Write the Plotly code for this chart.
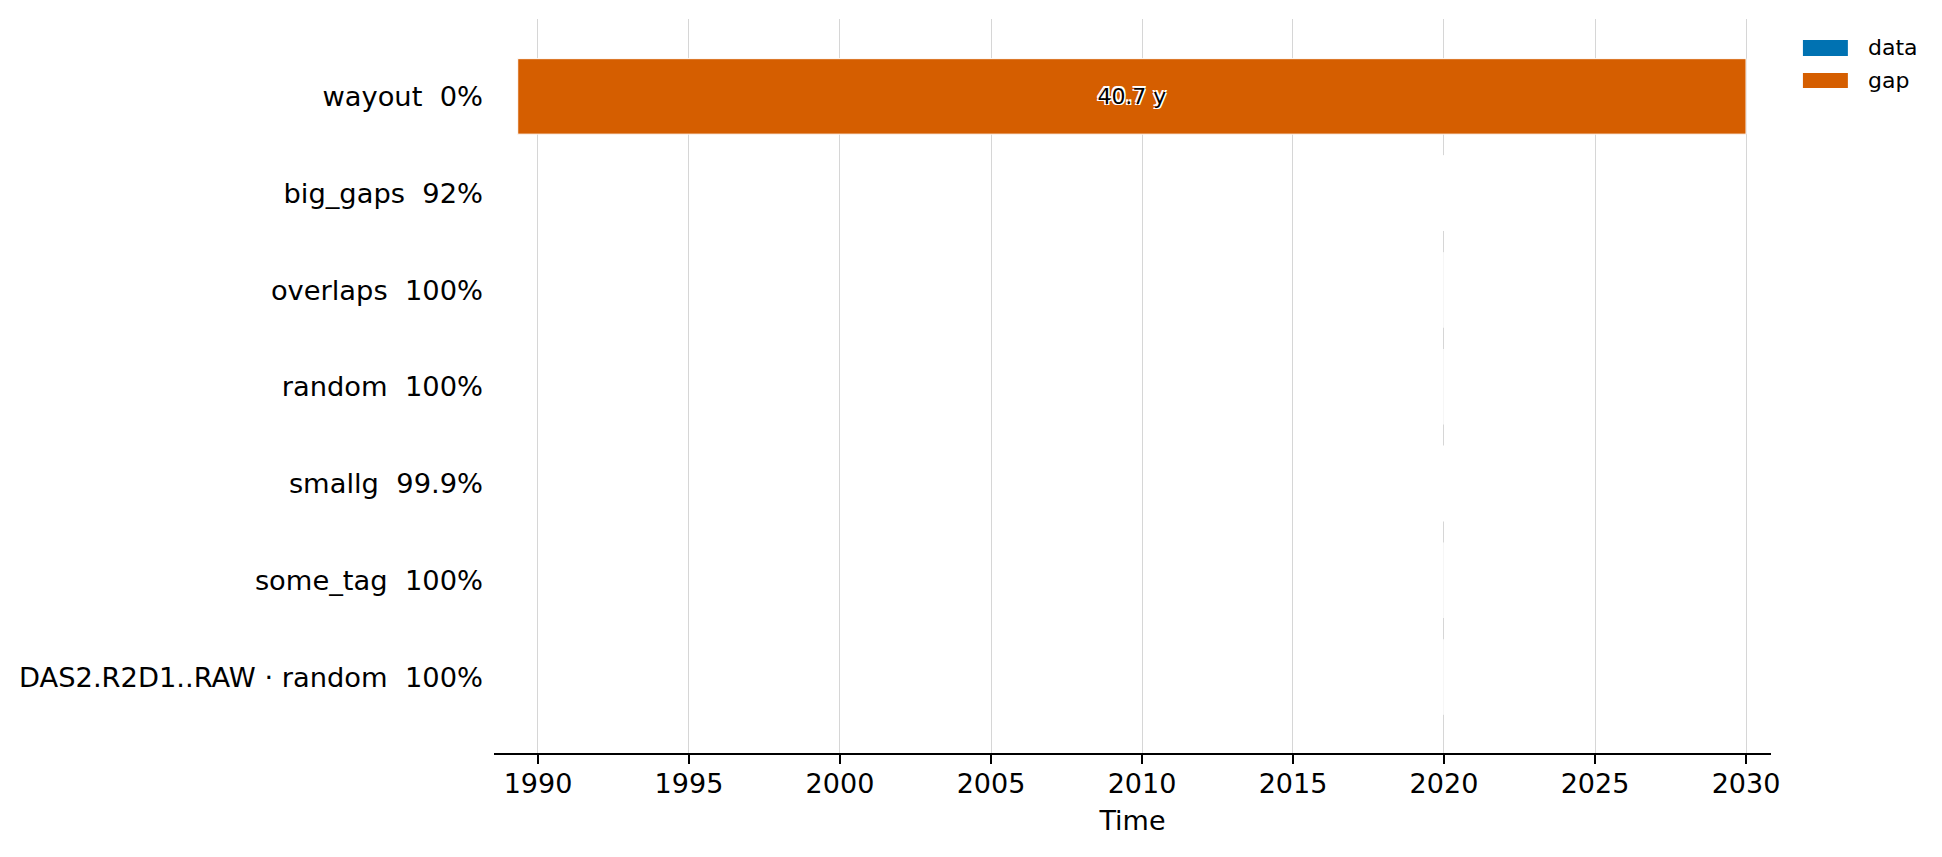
import plotly.graph_objects as go
import pandas as pd

# ---- data ----
row_names = ["wayout", "big_gaps", "overlaps", "random", "smallg", "some_tag",
             "DAS2.R2D1..RAW · random"]
row_cover = ["0%", "92%", "100%", "100%", "99.9%", "100%", "100%"]

seg_row = ["wayout", "big_gaps", "big_gaps", "big_gaps", "overlaps", "random",
           "smallg", "smallg", "smallg", "some_tag", "DAS2.R2D1..RAW · random"]
seg_kind = ["gap", "data", "gap", "data", "data", "data",
            "data", "gap", "data", "data", "data"]
seg_start = ["1989-05-01 00:00:00", "2020-01-01 00:00:00", "2020-01-01 00:20:00", "2020-01-01 00:22:00",
             "2020-01-01 00:00:00", "2020-01-01 00:00:00", "2020-01-01 00:00:00", "2020-01-01 00:15:00",
             "2020-01-01 00:15:01", "2020-01-01 00:00:00", "2020-01-01 00:00:00"]
seg_end = ["2030-01-01 00:00:00", "2020-01-01 00:20:00", "2020-01-01 00:22:00", "2020-01-01 00:45:00",
           "2020-01-01 00:40:00", "2020-01-01 00:40:00", "2020-01-01 00:15:00", "2020-01-01 00:15:01",
           "2020-01-01 00:40:00", "2020-01-01 00:40:00", "2020-01-01 00:40:00"]

kind_colors = {"data": "#0072B2", "gap": "#D55E00"}
x_range = ["1988-07-18", "2030-10-30"]

# ---- build ----
labels = {n: f"{n} \u00a0{c}" for n, c in zip(row_names, row_cover)}
starts = pd.to_datetime(seg_start, format="%Y-%m-%d %H:%M:%S")
ends = pd.to_datetime(seg_end, format="%Y-%m-%d %H:%M:%S")
durs_ms = [(e - s).total_seconds() * 1000 for s, e in zip(starts, ends)]
durs_y = [(e - s).total_seconds() / (365.25 * 86400) for s, e in zip(starts, ends)]

FONT = "DejaVu Sans"
fig = go.Figure()
for kind in ["data", "gap"]:
    idx = [i for i, k in enumerate(seg_kind) if k == kind]
    fig.add_trace(go.Bar(
        orientation="h",
        y=[labels[seg_row[i]] for i in idx],
        x=[durs_ms[i] for i in idx],
        base=[starts[i].strftime("%Y-%m-%d %H:%M:%S") for i in idx],
        width=0.78,
        marker=dict(color=kind_colors[kind], line=dict(color="white", width=1)),
        text=[(f"{durs_y[i]:.1f} y" if durs_y[i] > 1 else "") for i in idx],
        textposition="inside",
        insidetextanchor="middle",
        textangle=0,
        constraintext="none",
        textfont=dict(family=FONT, size=22, color="black",
                      shadow="-1.5px -1.5px 0 white, 1.5px -1.5px 0 white, -1.5px 1.5px 0 white, 1.5px 1.5px 0 white"),
        name=kind,
        showlegend=False,
        hoverinfo="skip",
    ))

# manual legend (matplotlib-style wide swatches)
leg_items = [("data", 0.9714, 0.9496), ("gap", 0.9264, 0.906)]
for name, y1, y0 in leg_items:
    fig.add_shape(type="rect", xref="paper", yref="paper",
                  x0=1.025, x1=1.0602, y0=y0, y1=y1,
                  fillcolor=kind_colors[name], line=dict(width=0))
    fig.add_annotation(xref="paper", yref="paper", x=1.0743, y=(y0 + y1) / 2,
                       text=name, showarrow=False, xanchor="left", yanchor="middle",
                       font=dict(family=FONT, size=22, color="black"))

fig.update_layout(
    width=1934, height=849,
    margin=dict(l=484, r=171, t=11, b=104),
    paper_bgcolor="white", plot_bgcolor="white",
    font=dict(family=FONT, size=27, color="black"),
    barmode="overlay",
    bargap=0.22,
)
fig.update_xaxes(
    type="date", range=x_range,
    tick0="1990-01-01", dtick="M60", tickformat="%Y",
    showgrid=True, gridcolor="#d6d6d6", gridwidth=1.3,
    showline=True, linecolor="black", linewidth=2,
    ticks="outside", ticklen=9, tickwidth=2, tickcolor="black",
    zeroline=False,
    ticklabelstandoff=-3,
    title=dict(text="Time", standoff=13, font=dict(family=FONT, size=27)),
    tickfont=dict(family=FONT, size=27),
)
fig.update_yaxes(
    type="category",
    categoryorder="array", categoryarray=[labels[n] for n in row_names],
    range=[6.785, -0.8],
    showgrid=False, showline=False, zeroline=False, ticks="",
    ticklabelstandoff=10,
    tickfont=dict(family=FONT, size=27.3),
)

fig.write_html("out.html")
